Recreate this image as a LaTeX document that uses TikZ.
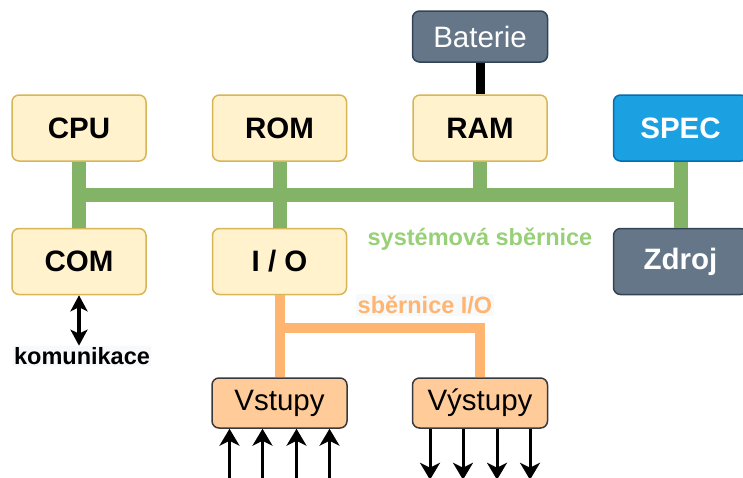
\documentclass[tikz,border=0pt]{standalone}
\usepackage{fontspec}
\setmainfont{Liberation Sans}
\usetikzlibrary{arrows.meta}
\definecolor{unitfill}{HTML}{FFF2CC}
\definecolor{unitdraw}{HTML}{D6B656}
\definecolor{specfill}{HTML}{1BA1E2}
\definecolor{specdraw}{HTML}{006EAF}
\definecolor{powerfill}{HTML}{647687}
\definecolor{powerdraw}{HTML}{314354}
\definecolor{portfill}{HTML}{FFCC99}
\definecolor{portdraw}{HTML}{36393D}
\definecolor{busgreen}{HTML}{82B366}
\definecolor{busorange}{HTML}{FFB570}
\definecolor{textgreen}{HTML}{97D077}
\definecolor{labelbg}{HTML}{F8F9FB}
\tikzstyle{unitbox} = [rectangle, rounded corners=7pt, minimum width=134pt, minimum height=66pt, text centered, draw=unitdraw, fill=unitfill, line width=1.5pt, font=\fontsize{29.5}{32}\selectfont\bfseries]
\tikzstyle{specbox} = [unitbox, draw=specdraw, fill=specfill, text=white]
\tikzstyle{powerbox} = [unitbox, draw=powerdraw, fill=powerfill, text=white]
\tikzstyle{portbox} = [rectangle, rounded corners=7pt, minimum width=135pt, minimum height=50pt, text centered, draw=portdraw, fill=portfill, line width=1.5pt, font=\fontsize{29.5}{32}\selectfont]
\tikzstyle{buslabel} = [font=\fontsize{23.5}{26}\selectfont\bfseries, inner sep=1.5pt]
\tikzstyle{sysbus} = [line width=14pt, draw=busgreen]
\tikzstyle{iobus} = [line width=10pt, draw=busorange]
\tikzstyle{arrow} = [line width=3pt, -{Stealth[length=17pt, width=20pt, inset=5pt]}]
\tikzstyle{dblarrow} = [line width=3.5pt, {Stealth[length=16pt, width=17pt, inset=4pt]}-{Stealth[length=16pt, width=17pt, inset=4pt]}]

\begin{document}
\begin{tikzpicture}[x=1pt, y=1pt, node distance=200.5pt]
        \useasboundingbox (0,0) rectangle (743,-477);
        % Nodes
        \node (cpu) [unitbox] at (79,-128) {CPU};
        \node (rom) [unitbox, right of=cpu] {ROM};
        \node (ram) [unitbox, right of=rom] {RAM};
        \node (spec) [specbox, right of=ram] {SPEC};
        \node (com) [unitbox, below of=cpu, node distance=133.5pt] {COM};
        \node (io) [unitbox, below of=rom, node distance=133.5pt] {I / O};
        \node (zdroj) [powerbox, below of=spec, node distance=133.5pt] {Zdroj};
        \node (baterie) [powerbox, above of=ram, node distance=91.5pt, minimum height=51pt, minimum width=135pt, font=\fontsize{29.5}{32}\selectfont] {Baterie};
        \node (vstupy) [portbox, below of=io, node distance=141.5pt] {Vstupy};
        \node (vystupy) [portbox, right of=vstupy] {Výstupy};
        \node (komunikace) [buslabel, fill=labelbg] at (82,-356) {komunikace};
        \node (syslabel) [buslabel, text=textgreen] at (480,-239) {systémová sběrnice};
        \node (iolabel) [buslabel, text=busorange, fill=labelbg] at (425,-305) {sběrnice I/O};
        \path (cpu) -- (com) coordinate[midway] (busl);
        \path (io.south) ++(0,-33) coordinate (iojoint);

        % Lines
        \draw [line width=9pt] (baterie) -- (ram);
        \draw [sysbus] (busl -| cpu) -- (busl -| spec);
        \draw [sysbus] (cpu) -- (com);
        \draw [sysbus] (rom) -- (io);
        \draw [sysbus] (ram) -- (ram |- busl);
        \draw [sysbus] (spec) -- (zdroj);
        \draw [iobus] (io) -- (vstupy);
        \draw [iobus] (iojoint) -| (vystupy);
        \draw [dblarrow] (com.south) -- (com.south |- komunikace.north);
        \foreach \i/\dx in {1/-50,2/-17,3/17,4/50} {
            \coordinate (in\i) at ([xshift=\dx pt, yshift=-52pt]vstupy.south);
            \draw [arrow] (in\i) -- (in\i |- vstupy.south);
            \coordinate (out\i) at ([xshift=\dx pt, yshift=-51pt]vystupy.south);
            \draw [arrow] (out\i |- vystupy.south) -- (out\i);
        }
    \end{tikzpicture}
\end{document}
